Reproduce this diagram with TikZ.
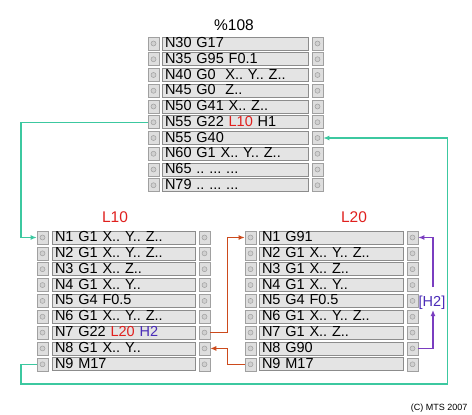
\documentclass[tikz,border=0pt]{standalone}
\usepackage{fontspec}
\setmainfont{Liberation Sans}
\usetikzlibrary{arrows.meta}
\definecolor{teal2}{HTML}{3CC8A0}
\definecolor{rust}{HTML}{CC4A1C}
\definecolor{purp}{HTML}{7A3DC0}
\definecolor{redt}{HTML}{E0201E}
\definecolor{bluet}{HTML}{4A2CB8}
\definecolor{boxfill}{HTML}{E4E4E4}
\definecolor{boxline}{HTML}{8C8C8C}
\definecolor{sqfill}{HTML}{DEDEDE}
\definecolor{sqline}{HTML}{A0A0A0}
\newcommand\rowfont{\fontsize{14.5}{14.5}\selectfont}
\frenchspacing
\tikzset{
  sq/.style={draw=sqline, fill=sqfill, minimum width=11pt, minimum height=13pt, inner sep=0pt, line width=0.6pt},
  rowbox/.style={draw=boxline, fill=boxfill, line width=0.7pt, inner sep=0pt, inner xsep=3pt,
    minimum height=13pt, text height=10.5pt, text depth=2.5pt, align=left, font=\rowfont},
  dotc/.style={draw=sqline, fill=sqfill!85!gray, line width=0.5pt},
  tealline/.style={draw=teal2, line width=1.4pt},
  rustline/.style={draw=rust, line width=1.6pt},
  purpline/.style={draw=purp, line width=1.6pt},
  arr/.style={-{Latex[length=6pt,width=5pt]}},
  titletxt/.style={font=\fontsize{15.5}{15.5}\selectfont, inner sep=0pt, anchor=base}
}
% #1 name, #2 y, #3 left square x, #4 box centre x, #5 box width, #6 right square x, #7 text
\newcommand\mkrow[7]{%
  \node[sq] (#1l) at (#3,#2) {};
  \draw[dotc] (#1l.center) circle[radius=2.5pt];
  \node[rowbox, text width=\dimexpr#5pt-6pt\relax] (#1) at (#4,#2) {#7};
  \node[sq] (#1r) at (#6,#2) {};
  \draw[dotc] (#1r.center) circle[radius=2.5pt];
}
\newcommand\trow[3]{\mkrow{#1}{#2}{153.5}{235}{146}{317.5}{#3}}
\newcommand\arow[3]{\mkrow{#1}{#2}{42.5}{123.5}{143}{204.5}{#3}}
\newcommand\brow[3]{\mkrow{#1}{#2}{250.5}{331}{144}{412.5}{#3}}
\begin{document}
\begin{tikzpicture}[x=1pt,y=-1pt]
\useasboundingbox (0,0) rectangle (472,415);
\fill[white] (0,0) rectangle (472,415);
% titles
\node[titletxt] (ttop) at (234,30.5) {\%108};
\node[titletxt, text=redt] (tl10) at (115,222) {L10};
\node[titletxt, text=redt] (tl20) at (354,222) {L20};
% top block
\trow{t0}{43.5}{N30 G17}
\trow{t1}{59.25}{N35 G95 F0.1}
\trow{t2}{75}{N40 G0\ \ X.. Y.. Z..}
\trow{t3}{90.75}{N45 G0\ \ Z..}
\trow{t4}{106.5}{N50 G41 X.. Z..}
\trow{t5}{122.25}{N55 G22 \textcolor{redt}{L10} H1}
\trow{t6}{138}{N55 G40}
\trow{t7}{153.75}{N60 G1 X.. Y.. Z..}
\trow{t8}{169.5}{N65 .. ... ...}
\trow{t9}{185.25}{N79 .. ... ...}
% L10 block
\arow{a0}{237.5}{N1 G1 X.. Y.. Z..}
\arow{a1}{253.35}{N2 G1 X.. Y.. Z..}
\arow{a2}{269.2}{N3 G1 X.. Z..}
\arow{a3}{285.05}{N4 G1 X.. Y..}
\arow{a4}{300.9}{N5 G4 F0.5}
\arow{a5}{316.75}{N6 G1 X.. Y.. Z..}
\arow{a6}{332.6}{N7 G22 \textcolor{redt}{L20} \textcolor{bluet}{H2}}
\arow{a7}{348.45}{N8 G1 X.. Y..}
\arow{a8}{364.3}{N9 M17}
% L20 block
\brow{b0}{237.5}{N1 G91}
\brow{b1}{253.35}{N2 G1 X.. Y.. Z..}
\brow{b2}{269.2}{N3 G1 X.. Z..}
\brow{b3}{285.05}{N4 G1 X.. Y..}
\brow{b4}{300.9}{N5 G4 F0.5}
\brow{b5}{316.75}{N6 G1 X.. Y.. Z..}
\brow{b6}{332.6}{N7 G1 X.. Z..}
\brow{b7}{348.45}{N8 G90}
\brow{b8}{364.3}{N9 M17}
% helper coordinates
\coordinate (c1) at (21,0);
\coordinate (cb) at (447.5,384);
\coordinate (cr) at (227.5,0);
\coordinate (h2lo) at (433,310);
\coordinate (h2hi) at (433,287);
% teal connectors
\draw[tealline, arr] (t5l.west) -- (t5l.west -| c1) |- (a0l.west);
\draw[tealline, arr] (a8l.west) -- (a8l.west -| c1) |- (cb) |- (t6r.east);
% rust connectors
\draw[rustline, arr] (a6r.east) -- (a6r.east -| cr) |- (b0l.west);
\draw[rustline, arr] (b8l.west) -- (b8l.west -| cr) |- (a7r.east);
% purple repeat
\draw[purpline, arr] (b7r.east) -| (h2lo);
\draw[purpline, arr] (h2hi) |- (b0r.east);
\node[anchor=base west, inner sep=0pt, text=bluet, font=\rowfont] (h2) at (418.5,306) {[H2]};
% copyright
\node[anchor=base east, inner sep=0pt, font=\fontsize{9}{9}\selectfont] (copy) at (467.5,410) {(C) MTS 2007};
\end{tikzpicture}
\end{document}
